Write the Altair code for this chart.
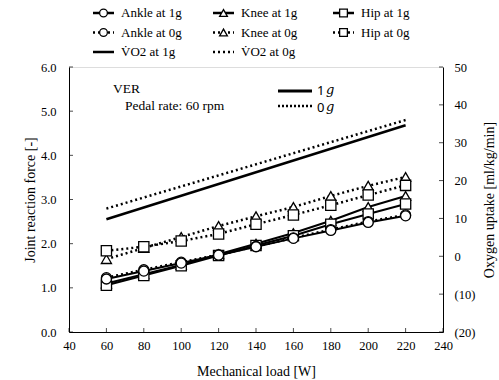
import altair as alt
import pandas as pd

# ---------------- data ----------------
loads = [60, 80, 100, 120, 140, 160, 180, 200, 220]
ankle_1g = [1.20, 1.38, 1.56, 1.74, 1.93, 2.12, 2.30, 2.48, 2.63]
ankle_0g = [1.23, 1.41, 1.58, 1.75, 1.94, 2.13, 2.32, 2.50, 2.65]
knee_1g = [1.10, 1.31, 1.52, 1.76, 2.00, 2.24, 2.52, 2.83, 3.08]
hip_1g = [1.06, 1.28, 1.50, 1.73, 1.96, 2.18, 2.44, 2.67, 2.90]
knee_0g = [1.65, 1.90, 2.15, 2.40, 2.62, 2.83, 3.08, 3.31, 3.51]
hip_0g = [1.84, 1.93, 2.06, 2.22, 2.44, 2.65, 2.87, 3.10, 3.32]

vo2_loads = [60, 220]
vo2_1g = [9.8, 34.6]
vo2_0g = [12.6, 36.0]

x_ticks = [40, 60, 80, 100, 120, 140, 160, 180, 200, 220, 240]
yl_ticks = [0, 1, 2, 3, 4, 5, 6]
yr_ticks = [-20, -10, 0, 10, 20, 30, 40, 50]

leg_labels = ["Ankle at 1g", "Knee at 1g", "Hip at 1g",
              "Ankle at 0g", "Knee at 0g", "Hip at 0g",
              "V\u0307O2 at 1g", "V\u0307O2 at 0g"]
leg_col = [0, 1, 2, 0, 1, 2, 0, 1]
leg_row = [0, 0, 0, 1, 1, 1, 2, 2]
leg_grav = ["1g", "1g", "1g", "0g", "0g", "0g", "1g", "0g"]
leg_joint = ["Ankle", "Knee", "Hip", "Ankle", "Knee", "Hip", "none", "none"]

# ---------------- tables ----------------
rows = []
for joint, grav, vals in [("Knee", "0g", knee_0g), ("Knee", "1g", knee_1g),
                          ("Hip", "0g", hip_0g), ("Hip", "1g", hip_1g),
                          ("Ankle", "0g", ankle_0g), ("Ankle", "1g", ankle_1g)]:
    for l, v in zip(loads, vals):
        rows.append({"load": l, "value": v, "joint": joint, "grav": grav,
                     "series": f"{joint} {grav}"})
joint_df = pd.DataFrame(rows)

vrows = []
for grav, vals in [("1g", vo2_1g), ("0g", vo2_0g)]:
    for l, v in zip(vo2_loads, vals):
        vrows.append({"load": l, "vo2": v, "grav": grav})
vo2_df = pd.DataFrame(vrows)

leg_df = pd.DataFrame({"label": leg_labels, "col": leg_col, "row": leg_row,
                       "grav": leg_grav, "joint": leg_joint})

FONT = "Liberation Serif"
x_scale = alt.Scale(domain=[40, 240], nice=False)
yl_scale = alt.Scale(domain=[0, 6], nice=False)
yr_scale = alt.Scale(domain=[-20, 50], nice=False)
shape_scale = alt.Scale(domain=["Ankle", "Knee", "Hip"],
                        range=["circle", "triangle-up", "square"])
size_scale = alt.Scale(domain=["Ankle", "Knee", "Hip"], range=[100, 105, 85])
dash_scale = alt.Scale(domain=["1g", "0g"], range=[[1, 0], [2, 3]])

common = dict(grid=False, tickSize=0, labelOverlap=False, labelFlush=False,
              domainColor="black", labelColor="black", titleColor="black",
              labelFontSize=12.5, titleFontSize=14, titleFontWeight="normal",
              labelFont=FONT, titleFont=FONT)
x_axis = alt.Axis(values=x_ticks, labelPadding=7, title="Mechanical load [W]",
                  titlePadding=13, **common)
yl_axis = alt.Axis(values=yl_ticks, format=".1f", labelPadding=13,
                   title="Joint reaction force [-]", titlePadding=3, **common)
yr_axis = alt.Axis(orient="right", values=yr_ticks, labelPadding=11,
                   labelExpr="datum.value < 0 ? '(' + (-datum.value) + ')' : '' + datum.value",
                   title="Oxygen uptake [ml/kg/min]", titleAngle=270,
                   titlePadding=22, titleBaseline="bottom", **common)

X = alt.X("load:Q", scale=x_scale, axis=x_axis)
Y = alt.Y("value:Q", scale=yl_scale, axis=yl_axis)

base = alt.Chart(joint_df)
line0 = base.transform_filter(alt.datum.grav == "0g").mark_line(
    color="black", strokeWidth=2.5, strokeDash=[2, 3]).encode(
    x=X, y=Y, detail="series:N")
line1 = base.transform_filter(alt.datum.grav == "1g").mark_line(
    color="black", strokeWidth=2).encode(x=X, y=Y, detail="series:N")
pts = base.mark_point(filled=True, fill="white", stroke="black",
                      strokeWidth=1.3, opacity=1).encode(
    x=X, y=Y,
    shape=alt.Shape("joint:N", scale=shape_scale, legend=None),
    size=alt.Size("joint:N", scale=size_scale, legend=None))

# inward-pointing tick marks along the axes
xt = alt.Chart(pd.DataFrame({"t": x_ticks})).mark_tick(
    orient="vertical", size=4, thickness=1, color="black", yOffset=-2).encode(
    x=alt.X("t:Q", scale=x_scale, axis=x_axis),
    y=alt.YDatum(0, scale=yl_scale, axis=yl_axis))
ylt = alt.Chart(pd.DataFrame({"t": yl_ticks})).mark_tick(
    orient="horizontal", size=4, thickness=1, color="black", xOffset=2).encode(
    y=alt.Y("t:Q", scale=yl_scale, axis=yl_axis),
    x=alt.XDatum(40, scale=x_scale, axis=x_axis))

ann = alt.Chart(alt.Data(values=[{}]))
t_ver = ann.mark_text(text="VER", font=FONT, fontSize=13.5, align="left",
                      baseline="middle", color="black").encode(
    x=alt.value(44), y=alt.value(22))
t_pedal = ann.mark_text(text="Pedal rate: 60 rpm", font=FONT, fontSize=13.5,
                        align="left", baseline="middle", color="black").encode(
    x=alt.value(56), y=alt.value(39))
r1 = ann.mark_rule(color="black", strokeWidth=3).encode(
    x=alt.value(209), x2=alt.value(243), y=alt.value(24))
r0 = ann.mark_rule(color="black", strokeWidth=2.5, strokeDash=[2, 2]).encode(
    x=alt.value(209), x2=alt.value(243), y=alt.value(39))
t1 = ann.mark_text(text="1", font="Noto Sans", fontSize=13, align="left",
                   baseline="middle", color="black").encode(
    x=alt.value(248), y=alt.value(24))
tg1 = ann.mark_text(text="g", font="DejaVu Serif", fontStyle="italic", fontSize=13,
                    align="left", baseline="middle", color="black").encode(
    x=alt.value(257), y=alt.value(23))
t0 = ann.mark_text(text="0", font="Noto Sans", fontSize=13, align="left",
                   baseline="middle", color="black").encode(
    x=alt.value(248), y=alt.value(41))
tg0 = ann.mark_text(text="g", font="DejaVu Serif", fontStyle="italic", fontSize=13,
                    align="left", baseline="middle", color="black").encode(
    x=alt.value(257), y=alt.value(40))

left_group = alt.layer(line0, line1, pts, xt, ylt, t_ver, t_pedal, r1, r0,
                       t1, tg1, t0, tg0)

vbase = alt.Chart(vo2_df)
XV = alt.X("load:Q", scale=x_scale, axis=x_axis)
YV = alt.Y("vo2:Q", scale=yr_scale, axis=yr_axis)
v1 = vbase.transform_filter(alt.datum.grav == "1g").mark_line(
    color="black", strokeWidth=2.5).encode(x=XV, y=YV)
v0 = vbase.transform_filter(alt.datum.grav == "0g").mark_line(
    color="black", strokeWidth=2.5, strokeDash=[2, 3]).encode(x=XV, y=YV)
yrt = alt.Chart(pd.DataFrame({"t": yr_ticks})).mark_tick(
    orient="horizontal", size=4, thickness=1, color="black", xOffset=-2).encode(
    y=alt.Y("t:Q", scale=yr_scale, axis=yr_axis),
    x=alt.XDatum(240, scale=x_scale, axis=x_axis))
right_group = alt.layer(v1, v0, yrt)

plot = alt.layer(left_group, right_group).resolve_scale(y="independent")

# legend drawn from its own small table, with its own scales
LX = alt.X("col:Q", scale=alt.Scale(domain=[0, 1], range=[24, 144]), axis=None)
LY = alt.Y("row:Q", scale=alt.Scale(domain=[0, 2], range=[-54, -15]), axis=None)
lbase = alt.Chart(leg_df)
lrule = lbase.mark_rule(strokeWidth=2.5, color="black", x2Offset=21).encode(
    x=LX, x2="col:Q", y=LY,
    strokeDash=alt.StrokeDash("grav:N", scale=dash_scale, legend=None))
lpts = lbase.transform_filter(alt.datum.joint != "none").mark_point(
    filled=True, fill="white", stroke="black", strokeWidth=1.3, opacity=1,
    xOffset=10.5).encode(
    x=LX, y=LY,
    shape=alt.Shape("joint:N", scale=shape_scale, legend=None),
    size=alt.Size("joint:N", scale=alt.Scale(domain=["Ankle", "Knee", "Hip"],
                                             range=[60, 60, 55]), legend=None))
ltext = lbase.mark_text(font=FONT, fontSize=13, align="left", baseline="middle",
                        color="black", xOffset=28).encode(
    x=LX, y=LY, text="label:N")
legend = alt.layer(lrule, lpts, ltext)

chart = alt.layer(plot, legend).resolve_scale(
    x="independent", y="independent", shape="independent",
    size="independent", strokeDash="independent").properties(
    width=374, height=265,
    autosize=alt.AutoSizeParams(type="none"),
    padding={"left": 69, "top": 67, "right": 56, "bottom": 48},
).configure_view(stroke=None).configure(font=FONT).configure_axis(
    labelFont=FONT, titleFont=FONT, labelOverlap=False)

chart.save("out.html", embed_options={"renderer": "svg", "actions": False})
